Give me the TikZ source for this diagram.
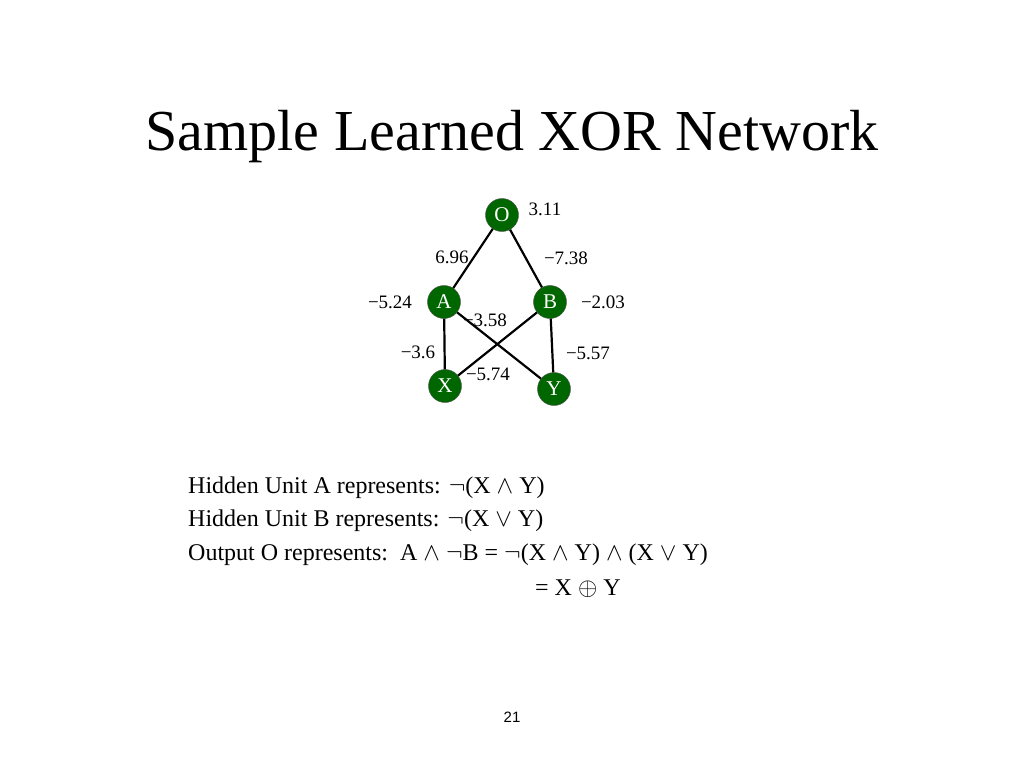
\documentclass[tikz,border=0pt]{standalone}
\usepackage{fontspec}
\setmainfont{Liberation Serif}
\setsansfont{Liberation Sans}
\usetikzlibrary{positioning}
\definecolor{unitgreen}{RGB}{0, 102, 0}

\begin{document}
\begin{tikzpicture}[
    x=1pt, y=-1pt,
    unit/.style={circle, draw=black!70, fill=unitgreen, text=white, minimum size=33pt, inner sep=0pt, font=\fontsize{21}{21}\selectfont},
    wt/.style={font=\fontsize{19}{19}\selectfont, inner sep=0pt},
    link/.style={line width=2.2pt},
    line/.style={anchor=west, inner sep=0pt, font=\fontsize{24}{24}\selectfont}
]
    \useasboundingbox (0,0) rectangle (1024,768);
    \node[font=\fontsize{58}{58}\selectfont] (title) at (512,137) {Sample Learned XOR Network};

    % units
    \node[unit] (o) at (502,215) {O};
    \node[unit] (a) at (444,302) {A};
    \node[unit] (b) at (550,302) {B};
    \node[unit] (x) at (445,386) {X};
    \node[unit] (y) at (554,389) {Y};

    \begin{scope}[on background layer/.style={}]
    \end{scope}

    % weights
    \node[wt] (w311) at (545,209) {3.11};
    \node[wt] (w696) at (452,257) {6.96};
    \node[wt] (w738) at (566,258) {−7.38};
    \node[wt] (w524) at (390,302) {−5.24};
    \node[wt] (w203) at (603,302) {−2.03};
    \node[wt] (w358) at (485,320) {−3.58};
    \node[wt] (w36) at (418,352) {−3.6};
    \node[wt] (w557) at (588,353) {−5.57};
    \node[wt] (w574) at (488,374) {−5.74};

    \draw[link] (o) -- (a);
    \draw[link] (o) -- (b);
    \draw[link] (a) -- (x);
    \draw[link] (a) -- (y);
    \draw[link] (b) -- (x);
    \draw[link] (b) -- (y);

    \node[line] (l1) at (188,488) {Hidden Unit A represents: $\neg$(X $\wedge$ Y)};
    \node[line] (l2) at (188,521) {Hidden Unit B represents: $\neg$(X $\vee$ Y)};
    \node[line] (l3) at (188,555) {Output O represents:\ \ A $\wedge$ $\neg$B = $\neg$(X $\wedge$ Y) $\wedge$ (X $\vee$ Y)};
    \node[line] (l4) at (535,589) {= X $\oplus$ Y};

    \node[font=\sffamily\fontsize{15}{15}\selectfont] (page) at (512,717) {21};
\end{tikzpicture}
\end{document}
